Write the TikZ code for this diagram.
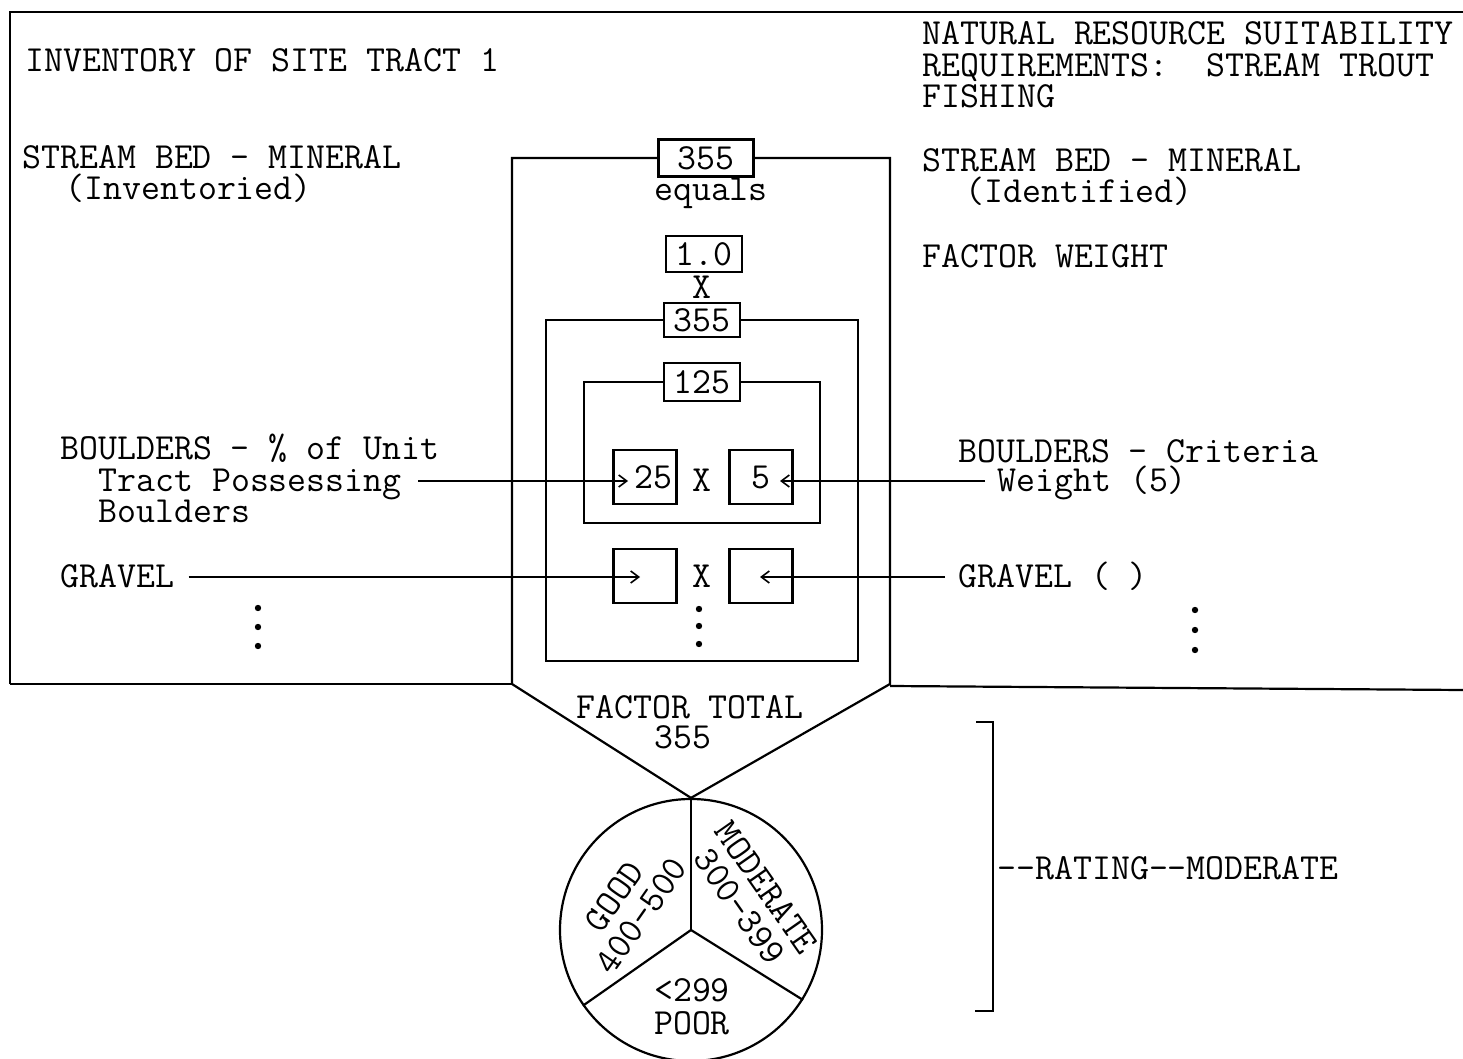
\documentclass[tikz,border=0pt]{standalone}
\usepackage{tikz}
\usetikzlibrary{positioning,arrows.meta,calc}
\newcommand{\typew}{\fontsize{18.4}{16}\selectfont\ttfamily}
\tikzset{
  every node/.style={font=\typew},
  % --- nodes
  txt/.style    = {anchor=base west, inner sep=0pt},
  ctxt/.style   = {anchor=base, inner sep=0pt},
  wheel/.style  = {inner sep=0pt, align=center,
                   font={\fontsize{18.4}{16.5}\selectfont\ttfamily}},
  numbox/.style = {draw, fill=white, line width=1.1pt, minimum width=38pt,
                   minimum height=18pt, inner sep=0pt},
  valbox/.style = {draw, line width=1.1pt, minimum width=31.5pt,
                   minimum height=27pt, inner sep=0pt},
  % --- edges
  ln/.style     = {line width=1.1pt},
  e/.style      = {-{Straight Barb[length=4pt,width=6pt]}, line width=0.8pt},
}

\begin{document}
\begin{tikzpicture}[x=0.5pt,y=-0.5pt]
  \useasboundingbox (0,0) rectangle (1463,1059);

  % --- left column: inventory
  \node[txt] (invtitle) at (25,72)  {INVENTORY OF SITE TRACT 1};
  \node[txt] (bedinvA)  at (22,169) {STREAM BED - MINERAL};
  \node[txt] (bedinvB)  at (65,200) {(Inventoried)};
  \node[txt] (bouldA)   at (60,459) {BOULDERS - \% of Unit};
  \node[txt] (bouldB)   at (98,491) {Tract Possessing};
  \node[txt] (bouldC)   at (98,522) {Boulders};
  \node[txt] (gravinv)  at (60,587) {GRAVEL};

  % --- right column: requirements
  \node[txt] (reqA)     at (922,45)  {NATURAL RESOURCE SUITABILITY};
  \node[txt] (reqB)     at (922,77)  {REQUIREMENTS:\ \ STREAM TROUT};
  \node[txt] (reqC)     at (922,108) {FISHING};
  \node[txt] (bedreqA)  at (922,172) {STREAM BED - MINERAL};
  \node[txt] (bedreqB)  at (965,203) {(Identified)};
  \node[txt] (weightlbl) at (922,268) {FACTOR WEIGHT};
  \node[txt] (critA)    at (958,463) {BOULDERS - Criteria};
  \node[txt] (critB)    at (997,491) {Weight (5)};
  \node[txt] (gravreq)  at (958,587) {GRAVEL ( )};

  % --- frame
  \draw[ln] (10,684) -- (10,12) -- (1463,12);
  \draw[ln] (10,684) -- (512,684);
  \draw[ln] (890,686) -- (1463,690);

  % --- central calculation
  \node[numbox, minimum width=47.5pt, minimum height=18.5pt] (top355) at (706,158) {355};
  \node[ctxt] (equals) at (711,201) {equals};
  \node[numbox] (wt10) at (704,254) {1.0};
  \node[ctxt] (times1) at (702,299) {X};
  \node[numbox, minimum height=17pt] (mid355) at (702,320) {355};
  \node[numbox, minimum height=19pt] (sub125) at (702,382) {125};

  \node[valbox, align=right, text width=27pt] (box25) at (645,477) {25};
  \node[ctxt] (times2) at (702,491) {X};
  \node[valbox] (box5) at (761,477) {5};
  \node[valbox] (gravL) at (645,576) {};
  \node[ctxt] (times3) at (702,587) {X};
  \node[valbox] (gravR) at (761,576) {};

  % --- rating wheel
  \node[draw, circle, line width=1.1pt, minimum size=131pt, inner sep=0pt] (rating) at (691,930) {};
  \draw[ln] (rating.center) -- (rating.90);
  \draw[ln] (rating.center) -- (rating.215);
  \draw[ln] (rating.center) -- (rating.-32);
  \node[wheel, rotate=55]  (good) at (628,906) {GOOD\\400-500};
  \node[wheel, rotate=-55] (mod)  at (753,897) {MODERATE\\300-399};
  \node[wheel] (poor) at (692,1007) {<299\\POOR};

  % --- outlines
  \draw[ln] (top355.west) -- (512,158) -- (512,684) -- (rating.north)
            -- (890,684) -- (890,158) -- (top355.east);
  \draw[ln] (mid355.west) -- (546,320) -- (546,661) -- (858,661)
            -- (858,320) -- (mid355.east);
  \draw[ln] (sub125.west) -- (584,382) -- (584,523) -- (820,523)
            -- (820,382) -- (sub125.east);

  \node[ctxt] (ftotal)  at (690,718) {FACTOR TOTAL};
  \node[ctxt] (ftotalv) at (683,748) {355};

  % --- bracket and result
  \draw[ln] (976,722) -- (993,722) -- (993,1011) -- (975,1011);
  \node[txt] (result) at (997,879) {{-}{-}RATING{-}{-}MODERATE};

  % --- arrows
  \coordinate (in25)  at (628,481);
  \coordinate (in5)   at (780,481);
  \coordinate (ingl)  at (640,577);
  \coordinate (ingr)  at (760,577);
  \draw[e] ([xshift=8pt,yshift=5pt]bouldB.base east) -- (in25);
  \draw[e] ([xshift=-6pt,yshift=5pt]critB.base west) -- (in5);
  \draw[e] ([xshift=7pt,yshift=5pt]gravinv.base east) -- (ingl);
  \draw[e] ([xshift=-6.5pt,yshift=5pt]gravreq.base west) -- (ingr);

  % --- continuation dots
  \foreach \x/\y in {258/608, 258/627, 258/646, 699/609, 699/626, 699/644,
                     1195/610, 1195/630, 1195/650}
    \fill (\x,\y) circle (1.6pt);
\end{tikzpicture}
\end{document}
